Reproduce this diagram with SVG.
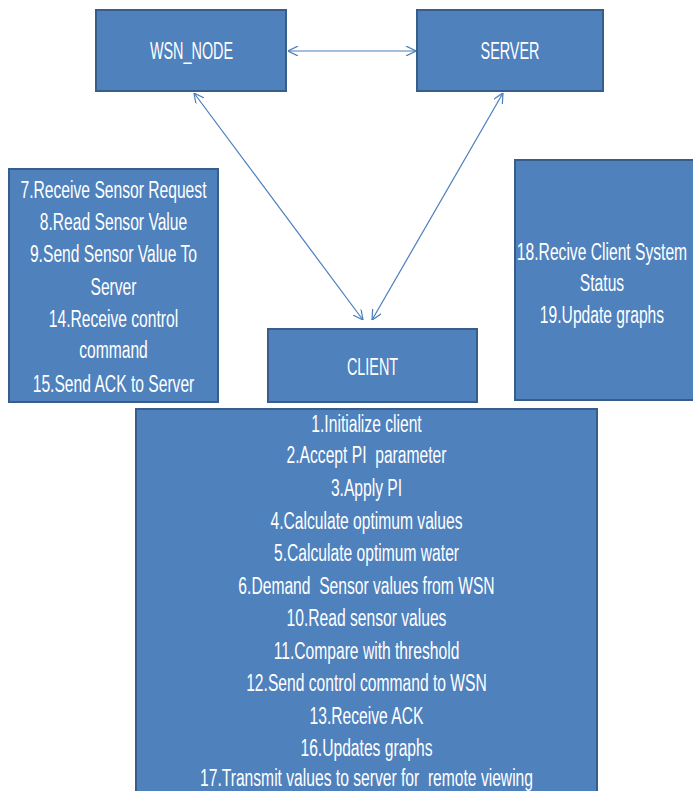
<svg xmlns="http://www.w3.org/2000/svg" width="693" height="791" viewBox="0 0 693 791">
<style>
.box{fill:#4F81BD;stroke:#385D8A;stroke-width:2}
.t{font-family:"Liberation Sans",Arial,sans-serif;font-size:23px;fill:#FFFFFF;text-anchor:middle;white-space:pre}
.h{font-family:"Liberation Sans",Arial,sans-serif;font-size:24px;fill:#FFFFFF;text-anchor:middle}
.c{fill:none;stroke:#4A7EBB;stroke-width:1.2}
</style>
<defs>
<marker id="ah" viewBox="0 0 10 10" refX="10" refY="5" markerWidth="10" markerHeight="10" markerUnits="userSpaceOnUse" orient="auto-start-reverse">
<path d="M0,0 L10,5 L0,10" fill="none" stroke="#4A7EBB" stroke-width="1.2"/>
</marker>
</defs>
<rect width="693" height="791" fill="#FFFFFF"/>
<g id="connectors">
<line class="c" x1="288" y1="51" x2="416" y2="51" marker-start="url(#ah)" marker-end="url(#ah)"/>
<line class="c" x1="194" y1="93" x2="363" y2="320" marker-start="url(#ah)" marker-end="url(#ah)"/>
<line class="c" x1="503" y1="93" x2="372" y2="320" marker-start="url(#ah)" marker-end="url(#ah)"/>
</g>
<g id="wsn_node">
<rect class="box" x="96" y="10" width="190" height="81"/>
<text class="h" transform="translate(191.5,59) scale(0.6,1)">WSN_NODE</text>
</g>
<g id="server">
<rect class="box" x="417" y="10" width="186" height="81"/>
<text class="h" transform="translate(510,59) scale(0.6,1)">SERVER</text>
</g>
<g id="wsn_tasks">
<rect class="box" x="9" y="169" width="209" height="233"/>
<text class="t" transform="translate(113.5,198) scale(0.68,1)">7.Receive Sensor Request</text>
<text class="t" transform="translate(113.5,230) scale(0.68,1)">8.Read Sensor Value</text>
<text class="t" transform="translate(113.5,262) scale(0.68,1)">9.Send Sensor Value To</text>
<text class="t" transform="translate(113.5,295) scale(0.68,1)">Server</text>
<text class="t" transform="translate(113.5,327) scale(0.68,1)">14.Receive control</text>
<text class="t" transform="translate(113.5,358) scale(0.68,1)">command</text>
<text class="t" transform="translate(113.5,392) scale(0.68,1)">15.Send ACK to Server</text>
</g>
<g id="server_tasks">
<rect class="box" x="515" y="160" width="190" height="240"/>
<text class="t" transform="translate(602,260) scale(0.68,1)">18.Recive Client System</text>
<text class="t" transform="translate(602,291) scale(0.68,1)">Status</text>
<text class="t" transform="translate(602,323) scale(0.68,1)">19.Update graphs</text>
</g>
<g id="client">
<rect class="box" x="268" y="329" width="209" height="73"/>
<text class="h" transform="translate(372.5,375) scale(0.6,1)">CLIENT</text>
</g>
<g id="client_tasks">
<rect class="box" x="136" y="409" width="461" height="400"/>
<text class="t" transform="translate(366.5,432) scale(0.68,1)">1.Initialize client</text>
<text class="t" transform="translate(366.5,463) scale(0.68,1)">2.Accept PI  parameter</text>
<text class="t" transform="translate(366.5,496) scale(0.68,1)">3.Apply PI</text>
<text class="t" transform="translate(366.5,529) scale(0.68,1)">4.Calculate optimum values</text>
<text class="t" transform="translate(366.5,561) scale(0.68,1)">5.Calculate optimum water</text>
<text class="t" transform="translate(366.5,594) scale(0.68,1)">6.Demand  Sensor values from WSN</text>
<text class="t" transform="translate(366.5,626) scale(0.68,1)">10.Read sensor values</text>
<text class="t" transform="translate(366.5,659) scale(0.68,1)">11.Compare with threshold</text>
<text class="t" transform="translate(366.5,691) scale(0.68,1)">12.Send control command to WSN</text>
<text class="t" transform="translate(366.5,724) scale(0.68,1)">13.Receive ACK</text>
<text class="t" transform="translate(366.5,756) scale(0.68,1)">16.Updates graphs</text>
<text class="t" transform="translate(366.5,786) scale(0.68,1)">17.Transmit values to server for  remote viewing</text>
</g>
</svg>
